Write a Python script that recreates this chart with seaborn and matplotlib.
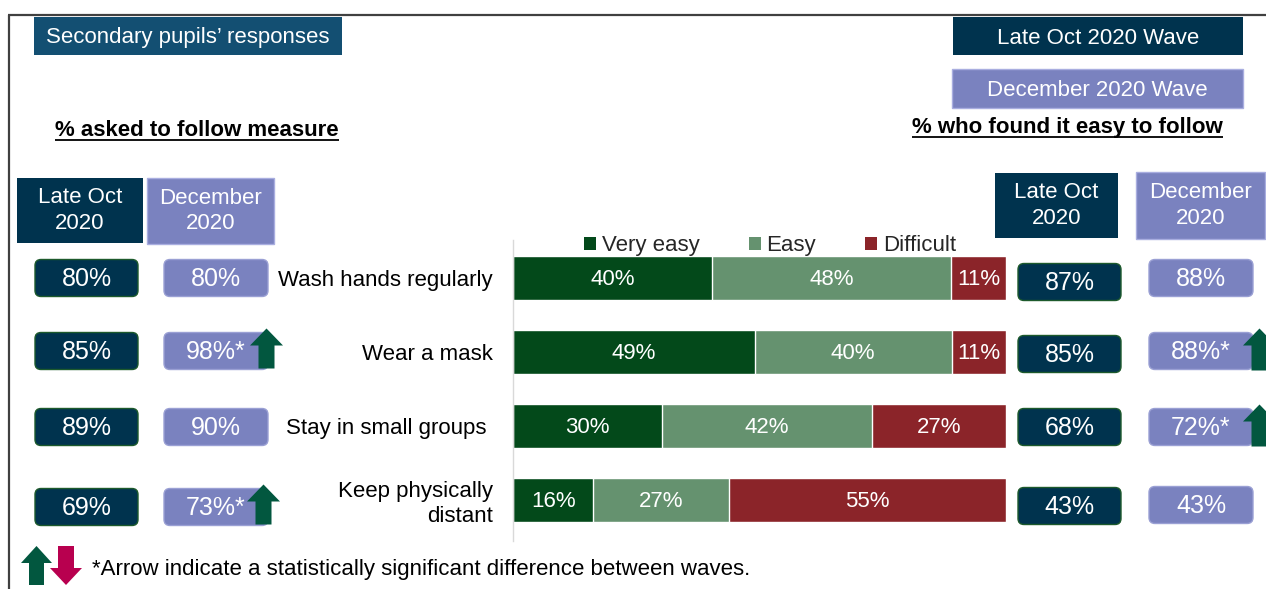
import numpy as np
import pandas as pd
import matplotlib
matplotlib.use("Agg")
import matplotlib.pyplot as plt
from matplotlib.patches import FancyBboxPatch, Rectangle, Polygon, Patch
import seaborn as sns

# ---------------- data ----------------
categories = ["Wash hands regularly", "Wear a mask", "Stay in small groups ", "Keep physically\ndistant"]
segment_names = ["Very easy", "Easy", "Difficult"]
very_easy = [40, 49, 30, 16]
easy = [48, 40, 42, 27]
difficult = [11, 11, 27, 55]

asked_oct = [80, 85, 89, 69]
asked_dec = [80, 98, 90, 73]
asked_dec_sig = [False, True, False, True]
easy_oct = [87, 85, 68, 43]
easy_dec = [88, 88, 72, 43]
easy_dec_sig = [False, True, True, False]

# ---------------- style ----------------
sns.set_theme(style="white")
plt.rcParams["font.family"] = ["Liberation Sans", "DejaVu Sans"]

NAVY = "#00334e"
LAV = "#7a82bf"
TITLE_BLUE = "#134f72"
C_VE = "#03491a"
C_E = "#65926f"
C_D = "#8b2429"
ARROW_G = "#02573f"
ARROW_R = "#b8004f"
seg_colors = {"Very easy": C_VE, "Easy": C_E, "Difficult": C_D}

W, H = 1266, 589
fig = plt.figure(figsize=(W / 100, H / 100), dpi=100)
fig.patch.set_facecolor("white")

# overlay axes in pixel coordinates (y downwards)
ov = fig.add_axes([0, 0, 1, 1])
ov.set_xlim(0, W)
ov.set_ylim(H, 0)
ov.axis("off")

# ---------------- stacked bar chart ----------------
ax = fig.add_axes([513 / W, 1 - 541 / H, 493 / W, 301 / H])
df = pd.DataFrame({"category": categories, "Very easy": very_easy,
                   "Easy": easy, "Difficult": difficult})
tot = df[segment_names].sum(axis=1)
share = df[segment_names].div(tot, axis=0) * 100
cum = share.cumsum(axis=1)
for name in reversed(segment_names):
    sns.barplot(x=cum[name].values, y=df["category"].values, orient="h",
                color=seg_colors[name], width=0.6, saturation=1, ax=ax)

for i in range(len(categories)):
    for name in segment_names:
        left = cum.loc[i, name] - share.loc[i, name]
        ax.text(left + share.loc[i, name] / 2, i + 0.02, f"{df.loc[i, name]}%",
                ha="center", va="center", color="white", fontsize=16)

ax.set_xlim(0, 100)
ax.set_ylim(3 + 41 / 74, -38 / 74)
ax.set_xlabel("")
ax.set_ylabel("")
ax.set_xticks([])
for s in ["top", "right", "bottom"]:
    ax.spines[s].set_visible(False)
ax.spines["left"].set_color("#d9d9d9")
ax.spines["left"].set_linewidth(1)
ax.tick_params(axis="y", length=0, pad=14.5, labelsize=16, labelcolor="black")
ax.patch.set_alpha(0)

handles = [Patch(facecolor=seg_colors[n], edgecolor="none") for n in segment_names]
fig.legend(handles, segment_names, loc="center", bbox_to_anchor=(770 / W, 1 - 246 / H),
           ncol=3, frameon=False, fontsize=16, handlelength=0.55, handleheight=0.55,
           handletextpad=0.25, columnspacing=2.2, borderpad=0, borderaxespad=0)

# ---------------- helpers ----------------
def box(x0, x1, y0, y1, color, edge, text, fs=18, rounded=True, lw=1.0, ls=1.2, dy=1):
    if rounded:
        p = FancyBboxPatch((x0, y0), x1 - x0, y1 - y0,
                           boxstyle="round,pad=0,rounding_size=6",
                           facecolor=color, edgecolor=edge, linewidth=lw)
    else:
        p = Rectangle((x0, y0), x1 - x0, y1 - y0, facecolor=color,
                      edgecolor=edge, linewidth=lw)
    ov.add_patch(p)
    ov.text((x0 + x1) / 2, (y0 + y1) / 2 + dy, text, ha="center", va="center",
            color="white", fontsize=fs, linespacing=ls)


def up_arrow(xl, top, bottom, color, w=33, head=17, shaft=16):
    cx = xl + w / 2
    pts = [(xl, top + head), (cx, top), (xl + w, top + head),
           (cx + shaft / 2, top + head), (cx + shaft / 2, bottom),
           (cx - shaft / 2, bottom), (cx - shaft / 2, top + head)]
    ov.add_patch(Polygon(pts, closed=True, facecolor=color, edgecolor="none", zorder=5))


def down_arrow(xl, top, bottom, color, w=33, head=17, shaft=16):
    cx = xl + w / 2
    pts = [(xl, bottom - head), (cx, bottom), (xl + w, bottom - head),
           (cx + shaft / 2, bottom - head), (cx + shaft / 2, top),
           (cx - shaft / 2, top), (cx - shaft / 2, bottom - head)]
    ov.add_patch(Polygon(pts, closed=True, facecolor=color, edgecolor="none", zorder=5))


# ---------------- frame ----------------
ov.plot([8, W], [15, 15], color="#404040", lw=1.6, solid_capstyle="butt")
ov.plot([9, 9], [15, H], color="#404040", lw=1.6, solid_capstyle="butt")

# ---------------- header boxes ----------------
box(34, 342, 17, 55, TITLE_BLUE, "none", "Secondary pupils\u2019 responses", fs=16, rounded=False, dy=2)
box(953, 1243, 17, 55, NAVY, "none", "Late Oct 2020 Wave", fs=16, rounded=False, dy=2)
box(952, 1243, 69, 108, LAV, "#a9aee0", "December 2020 Wave", fs=16, rounded=False, dy=2)

box(17, 143, 178, 243, NAVY, "none", "Late Oct\n2020", fs=16, rounded=False, ls=1.3, dy=0)
box(147, 274, 178, 244, LAV, "#a9aee0", "December\n2020", fs=16, rounded=False, ls=1.3, dy=0)
box(995, 1118, 173, 238, NAVY, "none", "Late Oct\n2020", fs=16, rounded=False, ls=1.3, dy=0)
box(1136, 1265, 172, 239, LAV, "#a9aee0", "December\n2020", fs=16, rounded=False, ls=1.3, dy=0)

t1 = ov.text(55, 130, "% asked to follow measure", ha="left", va="center",
             fontsize=16, fontweight="bold", color="black")
t2 = ov.text(912, 127, "% who found it easy to follow", ha="left", va="center",
             fontsize=16, fontweight="bold", color="black")

# ---------------- value boxes ----------------
left_rows = [278, 351, 427, 507]
right_oct_rows = [282, 354, 427, 506]
right_dec_rows = [278, 351, 427, 505]
BH = 37
for i in range(len(categories)):
    yc = left_rows[i]
    box(35, 138, yc - BH / 2, yc + BH / 2, NAVY, "#1d5a2c", f"{asked_oct[i]}%")
    box(164, 268, yc - BH / 2, yc + BH / 2, LAV, "#9aa0d4",
        f"{asked_dec[i]}%" + ("*" if asked_dec_sig[i] else ""))
    if asked_dec_sig[i]:
        up_arrow(250 - (3 if i == 3 else 0), yc - BH / 2 - 4, yc + BH / 2 - 1, ARROW_G)

    yc = right_oct_rows[i]
    box(1018, 1121, yc - BH / 2, yc + BH / 2, NAVY, "#1d5a2c", f"{easy_oct[i]}%")
    yc = right_dec_rows[i]
    box(1149, 1253, yc - BH / 2, yc + BH / 2, LAV, "#9aa0d4",
        f"{easy_dec[i]}%" + ("*" if easy_dec_sig[i] else ""))
    if easy_dec_sig[i]:
        up_arrow(1243, yc - BH / 2 - 4, yc + BH / 2 + 1, ARROW_G)

# ---------------- footer ----------------
up_arrow(21, 546, 585, ARROW_G, w=31, head=17, shaft=15)
down_arrow(50, 546, 585, ARROW_R, w=32, head=17, shaft=16)
ov.text(92, 570, "*Arrow indicate a statistically significant difference between waves.",
        ha="left", va="center", fontsize=16, color="black")

# underline the bold titles
fig.canvas.draw()
inv = ov.transData.inverted()
for t in (t1, t2):
    bb = t.get_window_extent()
    (x0, y0), (x1, y1) = inv.transform([[bb.x0, bb.y0], [bb.x1, bb.y1]])
    ov.plot([x0, x1], [y0 - 1, y0 - 1], color="black", lw=1.3, solid_capstyle="butt")

fig.savefig("out.png", dpi=100, facecolor="white")
